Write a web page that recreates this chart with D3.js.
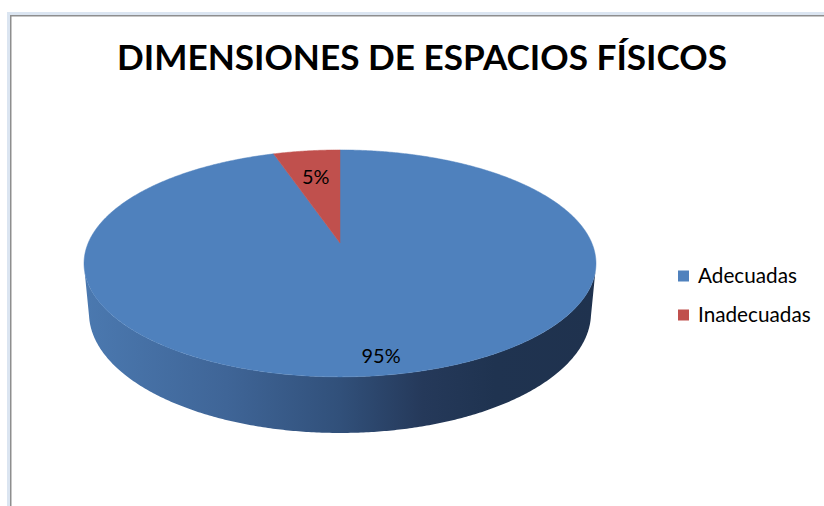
<!DOCTYPE html>
<html><head><meta charset="utf-8">
<script src="https://cdn.jsdelivr.net/npm/d3@7"></script>
<style>body{margin:0;background:#fff}svg{display:block}</style>
</head><body>
<svg id="chart" width="824" height="506"></svg>
<script>
// ---- data ----
const chartTitle = "DIMENSIONES DE ESPACIOS FÍSICOS";
const categories = ["Adecuadas", "Inadecuadas"];
const values = [95, 5];
const valueLabels = ["95%", "5%"];
const colors = ["#4f81bd", "#c0504d"];

// ---- drawing ----
const svg = d3.select("#chart");
const W = 824, H = 506;
const FONT = "Lato, 'Open Sans', sans-serif";

// frame
svg.append("rect").attr("x", 7).attr("y", 12).attr("width", W).attr("height", H).attr("fill", "#dbe5f1");
svg.append("rect").attr("x", 10).attr("y", 15).attr("width", W).attr("height", H).attr("fill", "#8e8e8e");
svg.append("rect").attr("x", 11.5).attr("y", 16.5).attr("width", W).attr("height", H).attr("fill", "#ffffff");

// title
const titleEl = svg.append("text")
  .attr("x", 422).attr("y", 70)
  .attr("text-anchor", "middle")
  .style("font-family", FONT)
  .style("font-weight", "bold")
  .style("font-size", "30px")
  .attr("fill", "#000")
  .text(chartTitle);
const tw = titleEl.node().getComputedTextLength();
titleEl.style("font-size", (30 * 610 / tw) + "px");

// 3D perspective projection of the pie disk
const cx = 340, cy = 243, F = 1259, D = 5.0;
const sA = 0.436, cA = Math.sqrt(1 - sA * sA);
const depth = 0.219;
function proj(a, r, hz) {
  const X = r * Math.sin(a), Zb = r * Math.cos(a);
  const t = D + hz * sA + cA * Zb;
  return [cx + X * F / t, cy - (sA * Zb - hz * cA) * F / t];
}

const pie = d3.pie().sort(null).value(d => d)(values);
const line = d3.line();
const step = Math.PI / 360;
function arcPoints(a0, a1, hz) {
  const pts = [];
  const n = Math.max(2, Math.ceil((a1 - a0) / step));
  for (let i = 0; i <= n; i++) pts.push(proj(a0 + (a1 - a0) * i / n, 1, hz));
  return pts;
}

// gradient for the side wall
const defs = svg.append("defs");
const grad = defs.append("linearGradient").attr("id", "wall")
  .attr("gradientUnits", "userSpaceOnUse")
  .attr("x1", cx - 258).attr("x2", cx + 258).attr("y1", 0).attr("y2", 0);
[[0, "#4b79b0"], [0.28, "#3f6597"], [0.5, "#31507a"], [0.66, "#25395a"], [0.8, "#1f3350"], [1, "#1f324e"]]
  .forEach(([o, c]) => grad.append("stop").attr("offset", o).attr("stop-color", c));
const gradR = defs.append("linearGradient").attr("id", "wallR")
  .attr("gradientUnits", "userSpaceOnUse")
  .attr("x1", cx - 258).attr("x2", cx + 258).attr("y1", 0).attr("y2", 0);
[[0, "#a94542"], [0.5, "#7a3130"], [1, "#4f1f1e"]]
  .forEach(([o, c]) => gradR.append("stop").attr("offset", o).attr("stop-color", c));

// visible range of the outer wall
const vis = Math.acos(-1 / (D * cA));
const v0 = vis - 0.02, v1 = 2 * Math.PI - vis + 0.02;

const walls = svg.append("g");
pie.forEach((d, i) => {
  const a0 = Math.max(d.startAngle, v0), a1 = Math.min(d.endAngle, v1);
  if (a1 <= a0) return;
  const pts = arcPoints(a0, a1, 0).concat(arcPoints(a0, a1, depth).reverse());
  walls.append("path").attr("d", line(pts) + "Z")
    .attr("fill", i === 0 ? "url(#wall)" : "url(#wallR)");
});

// top faces
const tops = svg.append("g");
pie.forEach((d, i) => {
  const pts = [proj(0, 0, 0)].concat(arcPoints(d.startAngle, d.endAngle, 0));
  tops.append("path").attr("d", line(pts) + "Z")
    .attr("fill", colors[i]).attr("stroke", colors[i]).attr("stroke-width", 0.5);
});

// fit a text element's font size to a target width
function fitWidth(el, base, target) {
  const w = el.node().getComputedTextLength();
  el.style("font-size", (base * target / w) + "px");
}

// data labels
pie.forEach((d, i) => {
  const mid = (d.startAngle + d.endAngle) / 2;
  const r = (d.endAngle - d.startAngle) > Math.PI ? 0.88 : 0.69;
  const p = proj(mid, r, 0);
  const t = svg.append("text")
    .attr("x", p[0]).attr("y", p[1]).attr("dy", "0.36em")
    .attr("text-anchor", "middle")
    .style("font-family", FONT)
    .style("font-size", "20px")
    .attr("fill", "#000")
    .text(valueLabels[i]);
  if (i === 0) fitWidth(t, 20, 39);
  else t.style("font-size", svg.selectAll("text").nodes()[1].style.fontSize);
});

// legend
const leg = svg.append("g");
let legSize = null;
categories.forEach((c, i) => {
  const y = 276 + i * 39;
  leg.append("rect").attr("x", 678).attr("y", y - 5.5).attr("width", 11).attr("height", 11).attr("fill", colors[i]);
  const t = leg.append("text").attr("x", 698).attr("y", y).attr("dy", "0.36em")
    .style("font-family", FONT)
    .style("font-size", "20px")
    .attr("fill", "#000")
    .text(c);
  if (i === 0) { fitWidth(t, 20, 99); legSize = t.style("font-size"); }
  else t.style("font-size", legSize);
});
</script>
</body></html>
